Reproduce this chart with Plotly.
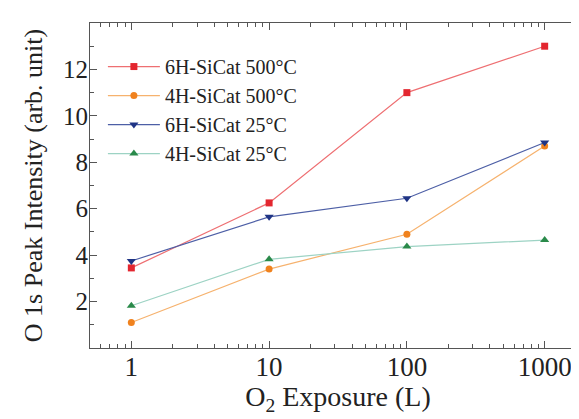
import plotly.graph_objects as go

exposure = [1, 10, 100, 1000]
series_names = ["6H-SiCat 500°C", "4H-SiCat 500°C", "6H-SiCat 25°C", "4H-SiCat 25°C"]
sic6h_500 = [3.45, 6.25, 11.0, 13.0]
sic4h_500 = [1.1, 3.4, 4.9, 8.7]
sic6h_25 = [3.75, 5.65, 6.45, 8.85]
sic4h_25 = [1.82, 3.82, 4.37, 4.65]
y_tick_vals = [2, 4, 6, 8, 10, 12]

styles = [
    dict(symbol="square", mcolor="#e3262f", lcolor="#ee6f72", size=7),
    dict(symbol="circle", mcolor="#f0821e", lcolor="#f6b26e", size=7),
    dict(symbol="triangle-down", mcolor="#1f3485", lcolor="#4d5fa6", size=8),
    dict(symbol="triangle-up", mcolor="#2a8a4a", lcolor="#9dd3c4", size=8),
]
values = [sic6h_500, sic4h_500, sic6h_25, sic4h_25]

fig = go.Figure()
for name, vals, st in zip(series_names, values, styles):
    fig.add_trace(go.Scatter(
        x=exposure, y=vals, name=name, mode="lines+markers",
        line=dict(color=st["lcolor"], width=1.2),
        marker=dict(symbol=st["symbol"], color=st["mcolor"], size=st["size"]),
    ))

ff = "Liberation Serif, Times New Roman, Times, serif"
axis_col = "#555"
fig.update_layout(
    width=579, height=419,
    margin=dict(l=82, r=1, t=15, b=79),
    paper_bgcolor="white", plot_bgcolor="white",
    font=dict(family=ff, color="#222"),
    showlegend=True,
    legend=dict(
        x=0.026, y=0.926, xanchor="left", yanchor="top",
        font=dict(family=ff, size=20, color="#222"),
        bgcolor="rgba(0,0,0,0)", itemwidth=52,
    ),
    xaxis=dict(
        type="log", range=[-0.3, 3.3], dtick=1,
        ticks="inside", ticklen=7, tickcolor=axis_col, mirror="ticks",
        showline=True, linecolor=axis_col, linewidth=1.2,
        showgrid=False, zeroline=False,
        tickfont=dict(family=ff, size=27, color="#222"),
        ticklabelstandoff=-6,
        minor=dict(ticks="inside", ticklen=4, dtick="D1", tickcolor=axis_col, showgrid=False),
        title=dict(text="O<sub>2</sub> Exposure (L)", font=dict(family=ff, size=28, color="#222"), standoff=3),
    ),
    yaxis=dict(
        range=[0, 14], tickvals=y_tick_vals,
        ticks="inside", ticklen=7, tickcolor=axis_col, mirror="ticks",
        showline=True, linecolor=axis_col, linewidth=1.2,
        showgrid=False, zeroline=False,
        tickfont=dict(family=ff, size=25, color="#222"),
        ticklabelstandoff=-4,
        minor=dict(ticks="inside", ticklen=4, dtick=1, tickcolor=axis_col, showgrid=False),
        title=dict(text="O 1s Peak Intensity (arb. unit)", font=dict(family=ff, size=26, color="#222"), standoff=12),
    ),
)

fig.write_html("out.html")
